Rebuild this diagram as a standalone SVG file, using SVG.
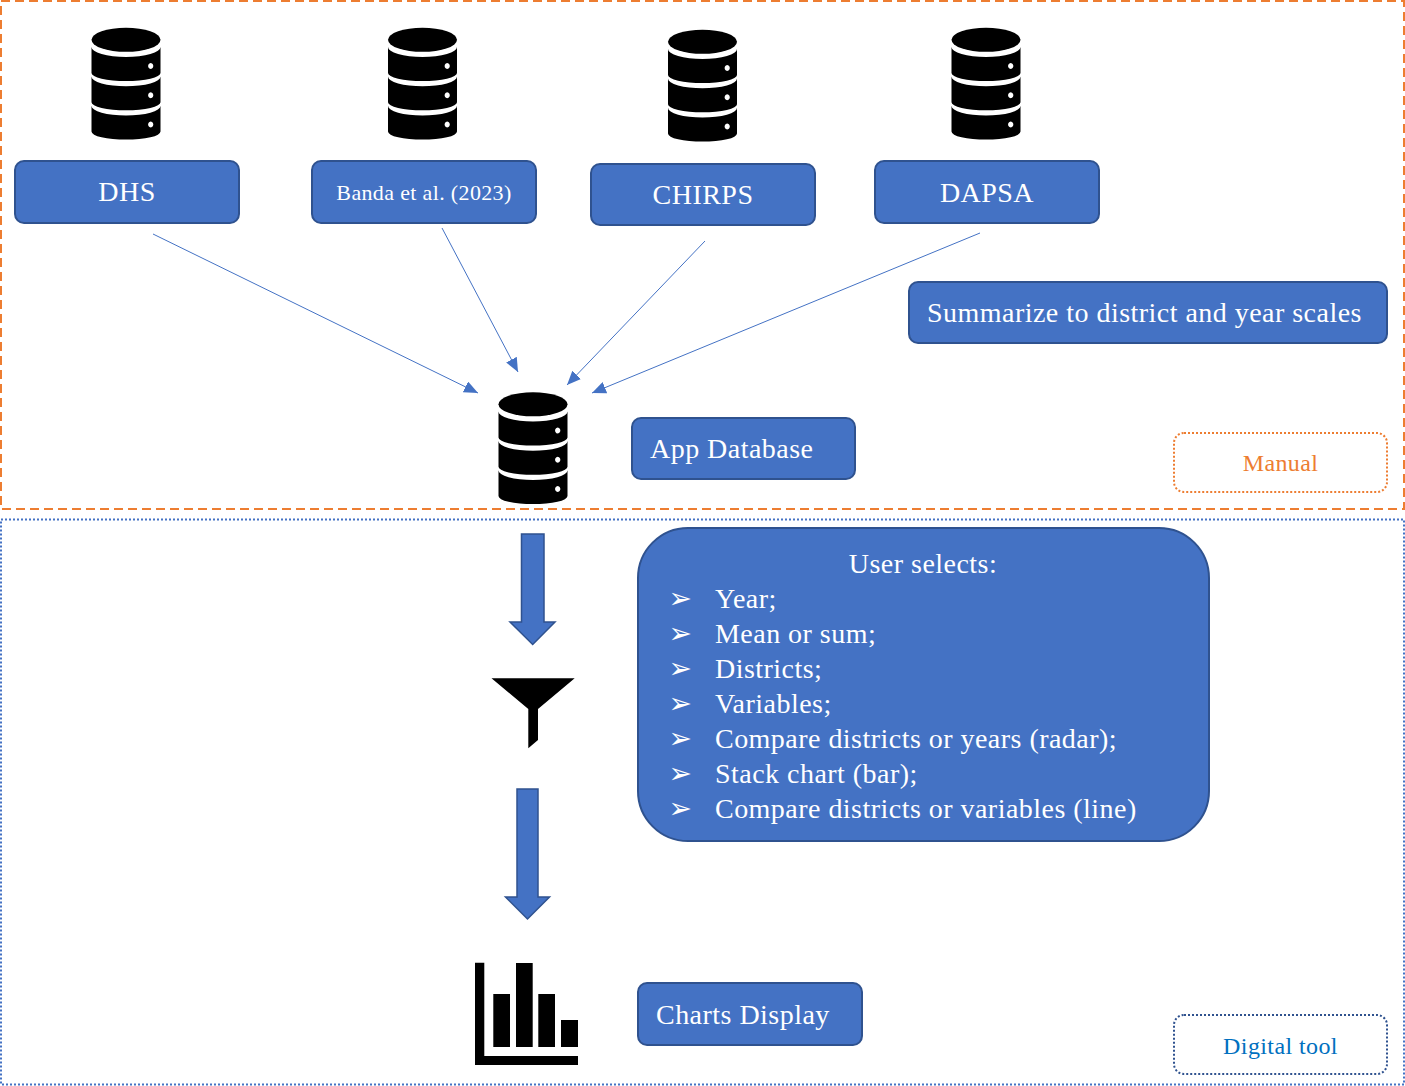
<svg xmlns="http://www.w3.org/2000/svg" width="1405" height="1086" viewBox="0 0 1405 1086">
<style>
text{font-family:"Liberation Serif","Times New Roman",serif;fill:#fff;font-size:28px;letter-spacing:.47px}
.m{text-anchor:middle}
.box{fill:#4472C4;stroke:#2F528F;stroke-width:2}
.b{font-family:"DejaVu Sans",sans-serif;font-size:25px;letter-spacing:0}
.conn{stroke:#4472C4;stroke-width:1;fill:none;marker-end:url(#ah)}
.blk{fill:#4472C4;stroke:#2F528F;stroke-width:1.5}
.tag{font-size:24px;letter-spacing:.4px}
</style>
<defs>
<marker id="ah" markerUnits="userSpaceOnUse" markerWidth="14" markerHeight="12" refX="14" refY="6" orient="auto"><path d="M0 0L14 6L0 12Z" fill="#4472C4"/></marker>
<g id="db">
<ellipse cx="35" cy="12.800" rx="34.500" ry="12"/>
<path fill-rule="evenodd" d="M.5 20A34.500 10 0 0 0 69.500 20V46A34.500 8 0 0 1 .5 46ZM59.700 36a2.600 3 0 1 0 .01 0Z"/>
<path fill-rule="evenodd" d="M.5 49.500A34.500 9.800 0 0 0 69.500 49.500V75.300A34.500 8 0 0 1 .5 75.300ZM59.700 65.300a2.600 3 0 1 0 .01 0Z"/>
<path fill-rule="evenodd" d="M.5 78.800A34.500 9.800 0 0 0 69.500 78.800V104.600A34.500 8 0 0 1 .5 104.600ZM59.700 94.600a2.600 3 0 1 0 .01 0Z"/>
</g>
</defs>
<rect id="manual-region" x="1" y="1" width="1403" height="508" fill="none" stroke="#ED7D31" stroke-width="2" stroke-dasharray="9 5"/>
<rect id="digital-region" x="1" y="519.500" width="1403" height="565" fill="none" stroke="#4472C4" stroke-width="2" stroke-dasharray="2 2"/>
<g id="connectors">
<line class="conn" x1="153" y1="234" x2="478" y2="393"/>
<line class="conn" x1="442" y1="228" x2="518" y2="372"/>
<line class="conn" x1="705" y1="241" x2="567" y2="385"/>
<line class="conn" x1="980" y1="233" x2="592" y2="393"/>
<path class="blk" d="M521.500 534H544V622H555L532.700 644.500L510 622H521.500Z"/>
<path class="blk" d="M517 789H538V897H549.500L527.500 919L505.500 897H517Z"/>
</g>
<g id="db-dhs"><use href="#db" x="91" y="27"/></g>
<g id="db-banda"><use href="#db" x="387.500" y="27"/></g>
<g id="db-chirps"><use href="#db" x="667.500" y="29"/></g>
<g id="db-dapsa"><use href="#db" x="951" y="27"/></g>
<g id="db-app"><use href="#db" x="498" y="391.500"/></g>
<g id="dhs"><rect class="box" x="15" y="161" width="224" height="62" rx="9"/><text class="m" x="127" y="201">DHS</text></g>
<g id="banda"><rect class="box" x="312" y="161" width="224" height="62" rx="9"/><text class="m" x="424" y="200" style="font-size:22px;letter-spacing:.35px">Banda et al. (2023)</text></g>
<g id="chirps"><rect class="box" x="591" y="164" width="224" height="61" rx="9"/><text class="m" x="703" y="204">CHIRPS</text></g>
<g id="dapsa"><rect class="box" x="875" y="161" width="224" height="62" rx="9"/><text class="m" x="987" y="202">DAPSA</text></g>
<g id="summarize"><rect class="box" x="909" y="282" width="478" height="61" rx="9"/><text x="927" y="322">Summarize to district and year scales</text></g>
<g id="app-database"><rect class="box" x="632" y="418" width="223" height="61" rx="9"/><text x="650" y="458">App Database</text></g>
<g id="manual"><rect x="1174" y="433" width="213" height="59" rx="10" fill="#fff" stroke="#ED7D31" stroke-width="2" stroke-dasharray="2 2"/><text class="m tag" x="1280.500" y="471" style="fill:#ED7D31">Manual</text></g>
<g id="user-selects"><rect class="box" x="638" y="528" width="571" height="313" rx="50"/>
<text class="m" x="923" y="573">User selects:</text>
<text class="b" transform="translate(668.500 607.500) scale(1.120 1.150)">➢</text><text x="715" y="608">Year;</text>
<text class="b" transform="translate(668.500 642.500) scale(1.120 1.150)">➢</text><text x="715" y="643">Mean or sum;</text>
<text class="b" transform="translate(668.500 677.500) scale(1.120 1.150)">➢</text><text x="715" y="678">Districts;</text>
<text class="b" transform="translate(668.500 712.500) scale(1.120 1.150)">➢</text><text x="715" y="713">Variables;</text>
<text class="b" transform="translate(668.500 747.500) scale(1.120 1.150)">➢</text><text x="715" y="748">Compare districts or years (radar);</text>
<text class="b" transform="translate(668.500 782.500) scale(1.120 1.150)">➢</text><text x="715" y="783">Stack chart (bar);</text>
<text class="b" transform="translate(668.500 817.500) scale(1.120 1.150)">➢</text><text x="715" y="818">Compare districts or variables (line)</text>
</g>
<g id="funnel"><path d="M491.500 678.300H574.700L538 709V740L528.300 748.300V709Z"/></g>
<g id="chart"><path d="M475 962.700H484.300V1056H578V1065H475ZM493.300 994H510V1047H493.300ZM516 963H532.700V1047H516ZM538.300 994H555V1047H538.300ZM561 1020H578V1047H561Z"/></g>
<g id="charts-display"><rect class="box" x="638" y="983" width="224" height="62" rx="9"/><text x="656" y="1024">Charts Display</text></g>
<g id="digital-tool"><rect x="1174" y="1015" width="213" height="59" rx="10" fill="#fff" stroke="#2F528F" stroke-width="2" stroke-dasharray="2 2"/><text class="m tag" x="1280.500" y="1054" style="fill:#0070C0">Digital tool</text></g>
</svg>
